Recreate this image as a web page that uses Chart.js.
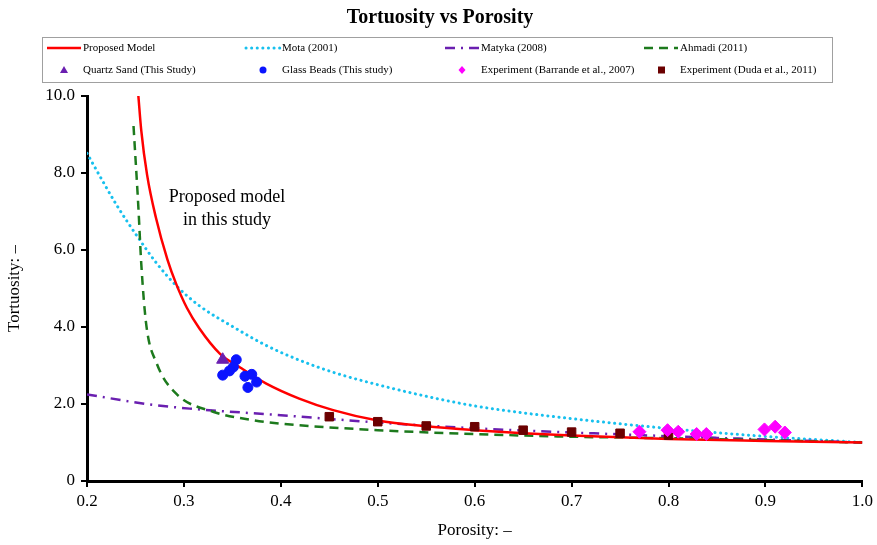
<!DOCTYPE html>
<html lang="en">
<head>
<meta charset="UTF-8">
<title>Tortuosity vs Porosity</title>
<script src="https://cdn.jsdelivr.net/npm/chart.js"></script>
<style>
  html, body { margin: 0; padding: 0; background: #fff; }
  #wrap { width: 877px; height: 545px; position: relative; }
</style>
</head>
<body>
<div id="wrap"><canvas id="chart"></canvas></div>
<script>
// curves (porosity -> tortuosity)
const propX = [0.253, 0.256, 0.262, 0.271, 0.283, 0.292, 0.303, 0.316, 0.337, 0.358, 0.385, 0.419, 0.454, 0.500, 0.550, 0.600, 0.650, 0.700, 0.800, 0.900, 1.000];
const propY = [10.0, 9.10, 7.95, 6.85, 5.75, 5.12, 4.50, 3.96, 3.31, 2.95, 2.53, 2.14, 1.84, 1.57, 1.42, 1.32, 1.24, 1.18, 1.09, 1.04, 1.00];

const motaX = [0.200, 0.231, 0.252, 0.272, 0.293, 0.316, 0.351, 0.385, 0.419, 0.457, 0.500, 0.550, 0.600, 0.650, 0.700, 0.756, 0.824, 0.893, 0.962, 1.000];
const motaY = [8.51, 7.15, 6.35, 5.65, 5.05, 4.55, 4.00, 3.52, 3.14, 2.80, 2.50, 2.20, 1.95, 1.77, 1.62, 1.47, 1.31, 1.17, 1.06, 1.00];

const matykaX = [0.200, 0.261, 0.306, 0.400, 0.500, 0.600, 0.700, 0.850, 1.000];
const matykaY = [2.25, 2.00, 1.88, 1.71, 1.52, 1.37, 1.26, 1.12, 1.00];

const ahmadiX = [0.248, 0.253, 0.256, 0.261, 0.272, 0.292, 0.330, 0.371, 0.400, 0.500, 0.600, 0.700, 0.800, 0.900, 1.000];
const ahmadiY = [9.22, 7.11, 5.64, 4.09, 3.05, 2.27, 1.80, 1.58, 1.49, 1.32, 1.22, 1.15, 1.11, 1.06, 1.00];

// measured points
const quartzX = [0.340];
const quartzY = [3.15];

const beadsX = [0.354, 0.351, 0.347, 0.340, 0.363, 0.370, 0.375, 0.366];
const beadsY = [3.15, 2.96, 2.86, 2.75, 2.72, 2.77, 2.57, 2.43];

const barrandeX = [0.770, 0.799, 0.810, 0.829, 0.839, 0.899, 0.910, 0.920];
const barrandeY = [1.28, 1.32, 1.28, 1.22, 1.22, 1.34, 1.41, 1.26];

const dudaX = [0.45, 0.50, 0.55, 0.60, 0.65, 0.70, 0.75, 0.80];
const dudaY = [1.67, 1.54, 1.43, 1.41, 1.32, 1.27, 1.24, 1.19];

const xTicks = [0.2, 0.3, 0.4, 0.5, 0.6, 0.7, 0.8, 0.9, 1.0];
const yTicks = [0, 2, 4, 6, 8, 10];

function pts(xs, ys) {
  return xs.map((x, i) => ({ x: x, y: ys[i] }));
}

const SERIF = '"Liberation Serif", "Times New Roman", serif';

const datasets = [
  { label: 'Proposed Model', data: pts(propX, propY), showLine: true, borderColor: '#ff0000', borderWidth: 2.5,
    pointRadius: 0, cubicInterpolationMode: 'monotone', order: 3, legendKind: 'line' },
  { label: 'Mota (2001)', data: pts(motaX, motaY), showLine: true, borderColor: '#17c0ee', borderWidth: 3,
    borderDash: [0.1, 5.5], borderCapStyle: 'round', pointRadius: 0, cubicInterpolationMode: 'monotone', order: 6, legendKind: 'line' },
  { label: 'Matyka (2008)', data: pts(matykaX, matykaY), showLine: true, borderColor: '#6a1fb0', borderWidth: 2.5,
    borderDash: [10, 6, 2, 6], pointRadius: 0, cubicInterpolationMode: 'monotone', order: 5, legendKind: 'line' },
  { label: 'Ahmadi (2011)', data: pts(ahmadiX, ahmadiY), showLine: true, borderColor: '#1d7a1d', borderWidth: 2.5,
    borderDash: [9, 6], pointRadius: 0, cubicInterpolationMode: 'monotone', order: 4, legendKind: 'line' },
  { label: 'Quartz Sand (This Study)', data: pts(quartzX, quartzY), pointStyle: 'triangle', pointRadius: 7,
    backgroundColor: '#6a1fb0', borderColor: '#6a1fb0', order: 1, legendKind: 'point' },
  { label: 'Glass Beads (This study)', data: pts(beadsX, beadsY), pointStyle: 'circle', pointRadius: 5,
    backgroundColor: '#0a14ff', borderColor: '#0a14ff', order: 0, legendKind: 'point' },
  { label: 'Experiment (Barrande et al., 2007)', data: pts(barrandeX, barrandeY), pointStyle: 'rectRot', pointRadius: 6.5,
    backgroundColor: '#ff00ff', borderColor: '#ff00ff', order: 1, legendKind: 'point' },
  { label: 'Experiment (Duda et al., 2011)', data: pts(dudaX, dudaY), pointStyle: 'rect', pointRadius: 6,
    backgroundColor: '#6b0000', borderColor: '#6b0000', order: 1, legendKind: 'point' }
];

// title, annotation and the 4-column legend box
const extras = {
  id: 'extras',
  afterDraw(chart) {
    const ctx = chart.ctx;
    ctx.save();
    ctx.fillStyle = '#000';
    ctx.textAlign = 'center';
    ctx.textBaseline = 'middle';
    ctx.font = 'bold 20px ' + SERIF;
    ctx.fillText('Tortuosity vs Porosity', 440, 18);

    ctx.font = '18px ' + SERIF;
    ctx.fillText('Proposed model', 227, 197);
    ctx.fillText('in this study', 227, 220);

    // legend box
    ctx.strokeStyle = '#a0a0a0';
    ctx.lineWidth = 1;
    ctx.strokeRect(42.5, 37.5, 790, 45);
    const colX = [47, 246, 445, 644];
    const rowY = [48, 70];
    ctx.font = '11px ' + SERIF;
    ctx.textAlign = 'left';
    chart.data.datasets.forEach((ds, i) => {
      const col = i % 4, row = Math.floor(i / 4);
      const x0 = colX[col], y0 = rowY[row];
      if (ds.legendKind === 'line') {
        ctx.save();
        ctx.strokeStyle = ds.borderColor;
        ctx.lineWidth = ds.borderWidth;
        ctx.lineCap = ds.borderCapStyle || 'butt';
        ctx.setLineDash(ds.borderDash || []);
        ctx.beginPath();
        ctx.moveTo(x0, y0);
        ctx.lineTo(x0 + 34, y0);
        ctx.stroke();
        ctx.restore();
      } else {
        ctx.fillStyle = ds.backgroundColor;
        ctx.beginPath();
        if (ds.pointStyle === 'circle') { ctx.arc(x0 + 17, y0, 3.5, 0, Math.PI * 2); }
        else if (ds.pointStyle === 'triangle') { ctx.moveTo(x0 + 17, y0 - 4); ctx.lineTo(x0 + 21, y0 + 3); ctx.lineTo(x0 + 13, y0 + 3); ctx.closePath(); }
        else if (ds.pointStyle === 'rectRot') { ctx.moveTo(x0 + 17, y0 - 4); ctx.lineTo(x0 + 20.5, y0); ctx.lineTo(x0 + 17, y0 + 4); ctx.lineTo(x0 + 13.5, y0); ctx.closePath(); }
        else { ctx.rect(x0 + 14, y0 - 3.5, 7, 7); }
        ctx.fill();
      }
      ctx.fillStyle = '#000';
      ctx.fillText(ds.label, x0 + 36, y0);
    });
    ctx.restore();
  }
};

new Chart(document.getElementById('chart'), {
  type: 'scatter',
  data: { datasets: datasets },
  plugins: [extras],
  options: {
    responsive: true,
    maintainAspectRatio: false,
    animation: false,
    layout: { padding: { top: 96, right: 13, left: 0, bottom: 0 } },
    plugins: {
      legend: { display: false },
      title: { display: false },
      tooltip: { enabled: false }
    },
    scales: {
      x: {
        type: 'linear',
        min: 0.2, max: 1.0,
        afterBuildTicks: (s) => { s.ticks = xTicks.map(v => ({ value: v })); },
        border: { display: true, color: '#000', width: 3 },
        grid: { display: true, drawOnChartArea: false, drawTicks: true, tickLength: 6, color: '#000', lineWidth: 2 },
        ticks: { color: '#000', font: { family: SERIF, size: 17 }, padding: 4, callback: (v) => v.toFixed(1) },
        title: { display: true, text: 'Porosity: –', color: '#000', font: { family: SERIF, size: 17 }, padding: { top: 2 } },
        afterFit: (s) => { s.height = 64; }
      },
      y: {
        type: 'linear',
        min: 0, max: 10,
        afterBuildTicks: (s) => { s.ticks = yTicks.map(v => ({ value: v })); },
        border: { display: true, color: '#000', width: 3 },
        grid: { display: true, drawOnChartArea: false, drawTicks: true, tickLength: 6, color: '#000', lineWidth: 2 },
        ticks: { color: '#000', font: { family: SERIF, size: 17 }, padding: 6, callback: (v) => v === 0 ? '0' : v.toFixed(1) },
        title: { display: true, text: 'Tortuosity: –', color: '#000', font: { family: SERIF, size: 17 }, padding: { bottom: 0 } },
        afterFit: (s) => { s.width = 87; }
      }
    }
  }
});
</script>
</body>
</html>
